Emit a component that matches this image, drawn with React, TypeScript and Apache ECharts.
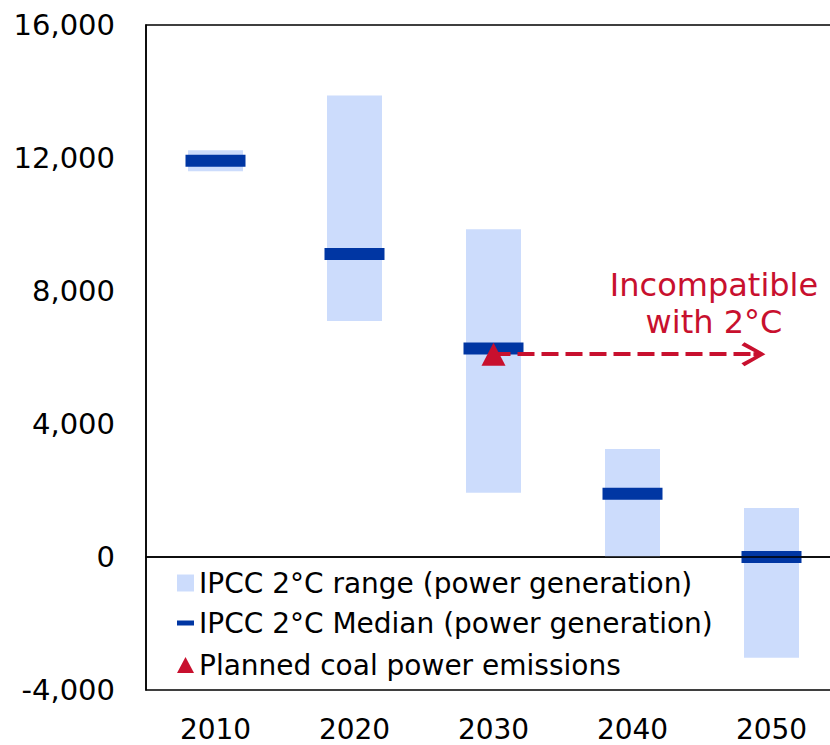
import React, { useEffect, useRef } from "react";
import * as echarts from "echarts";

const years = ["2010", "2020", "2030", "2040", "2050"];
const rangeLow = [11600, 7100, 1930, 0, -3030];
const rangeHigh = [12230, 13880, 9860, 3250, 1470];
const medianValues = [11920, 9110, 6270, 1900, 0];
const coalYear = "2030";
const coalValue = 6100;
const arrowFrom = 2; // category index of 2030
const arrowTo = 3.87; // just short of 2050
const yMin = -4000;
const yMax = 16000;
const yStep = 4000;

const RANGE_NAME = "IPCC 2°C range (power generation)";
const MEDIAN_NAME = "IPCC 2°C Median (power generation)";
const COAL_NAME = "Planned coal power emissions";

const FONT = "DejaVu Sans";
const LIGHT = "#CCDCFC";
const DARK = "#0036A3";
const RED = "#C8102E";

const chevron =
  "path://M12,0 L24,21 L21,24 L12,7 L3,24 L0,21 Z M10,4 L14,4 L14,12 L10,12 Z";

export default function App() {
  const ref = useRef<HTMLDivElement>(null);
  useEffect(() => {
    if (!ref.current) return;
    const chart = echarts.init(ref.current, null, { renderer: "svg" });
    const legendBase = {
      left: 177,
      orient: "vertical",
      padding: 0,
      selectedMode: false,
      textStyle: { color: "#000", fontSize: 28, fontFamily: FONT },
    };
    chart.setOption({
      animation: false,
      textStyle: { fontFamily: FONT },
      grid: {
        left: 146,
        top: 25,
        right: 0,
        bottom: 55,
        show: true,
        borderColor: "#000",
        borderWidth: 1.5,
        containLabel: false,
      },
      xAxis: [
        {
          type: "category",
          data: years,
          boundaryGap: true,
          axisTick: { show: false },
          axisLine: { show: true, lineStyle: { color: "#000", width: 1.5 } },
          axisLabel: { color: "#000", fontSize: 28, margin: 25, fontFamily: FONT },
          splitLine: { show: false },
        },
        { type: "value", min: -0.5, max: 4.5, show: false },
      ],
      yAxis: {
        type: "value",
        min: yMin,
        max: yMax,
        interval: yStep,
        axisLine: { show: true, onZero: false, lineStyle: { color: "#000", width: 1.5 } },
        axisTick: { show: false },
        splitLine: { show: false },
        axisLabel: {
          color: "#000",
          fontSize: 29,
          margin: 31,
          fontFamily: FONT,
          formatter: (v: number) => v.toLocaleString("en-US"),
        },
      },
      legend: [
        { ...legendBase, top: 569, itemWidth: 17, itemHeight: 17, data: [{ name: RANGE_NAME, icon: "rect" }] },
        { ...legendBase, top: 609, itemWidth: 17, itemHeight: 5, data: [{ name: MEDIAN_NAME, icon: "rect" }] },
        { ...legendBase, top: 651, itemWidth: 17, itemHeight: 16, data: [{ name: COAL_NAME, icon: "triangle" }] },
      ],
      graphic: [
        {
          type: "text",
          z: 100,
          style: {
            text: "Incompatible\nwith 2°C",
            x: 714,
            y: 266,
            textAlign: "center",
            fontSize: 32,
            fontFamily: FONT,
            lineHeight: 37,
            fill: RED,
          },
        },
      ],
      series: [
        {
          name: RANGE_NAME,
          type: "custom",
          itemStyle: { color: LIGHT },
          encode: { x: 0, y: [1, 2] },
          data: years.map((y, i) => [i, rangeLow[i], rangeHigh[i]]),
          renderItem: (params: any, api: any) => {
            const idx = api.value(0);
            const lo = api.coord([idx, api.value(1)]);
            const hi = api.coord([idx, api.value(2)]);
            const w = 55;
            return {
              type: "rect",
              shape: { x: lo[0] - w / 2, y: hi[1], width: w, height: lo[1] - hi[1] },
              style: { fill: LIGHT },
            };
          },
          markLine: {
            silent: true,
            symbol: "none",
            label: { show: false },
            lineStyle: { color: "#000", width: 1.5, type: "solid" },
            data: [{ yAxis: 0 }],
          },
        },
        {
          name: MEDIAN_NAME,
          type: "scatter",
          symbol: "rect",
          symbolSize: [60, 12],
          itemStyle: { color: DARK, opacity: 1 },
          z: 3,
          data: medianValues,
        },
        {
          name: "arrow",
          type: "line",
          xAxisIndex: 1,
          showSymbol: false,
          data: [[arrowFrom, coalValue]],
          z: 4,
          markLine: {
            silent: true,
            symbol: ["none", chevron],
            symbolSize: 24,
            label: { show: false },
            lineStyle: { color: RED, width: 4, type: [17, 7] },
            itemStyle: { color: RED },
            data: [[{ coord: [arrowFrom, coalValue] }, { coord: [arrowTo, coalValue] }]],
          },
        },
        {
          name: COAL_NAME,
          type: "scatter",
          symbol: "triangle",
          symbolSize: [24, 23],
          itemStyle: { color: RED, opacity: 1 },
          z: 5,
          data: [[coalYear, coalValue]],
        },
      ],
    });
    return () => chart.dispose();
  }, []);
  return (
    <div
      ref={ref}
      style={{ position: "fixed", left: 0, top: 0, width: 841, height: 745, background: "#fff" }}
    />
  );
}
